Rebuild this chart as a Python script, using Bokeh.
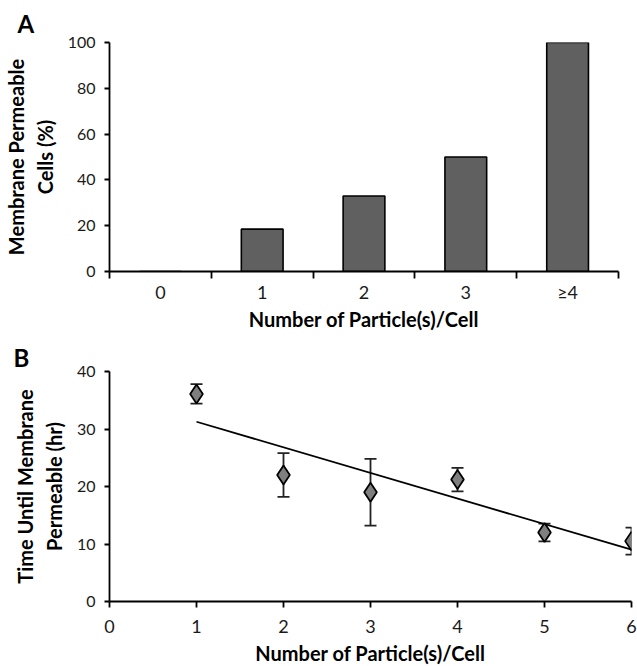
import numpy as np
from bokeh.plotting import figure
from bokeh.layouts import column
from bokeh.models import FixedTicker, Range1d, Whisker, ColumnDataSource, TeeHead
from bokeh.embed import file_html
from bokeh.resources import INLINE

# ---- data ----
categories = ["0", "1", "2", "3", "≥4"]
permeable_pct = [0, 18.5, 33, 50, 100]
yticks_a = [0, 20, 40, 60, 80, 100]

particles = [1, 2, 3, 4, 5, 6]
time_mean = [36.1, 22.0, 19.0, 21.2, 12.0, 10.5]
time_err = [1.7, 3.8, 5.8, 2.05, 1.55, 2.35]
yticks_b = [0, 10, 20, 30, 40]
xticks_b = [0, 1, 2, 3, 4, 5, 6]

FONT = "Lato"
TXT = "#1a1a1a"


def style(p, letter, offset, standoff):
    p.outline_line_color = None
    p.xgrid.visible = False
    p.ygrid.visible = False
    for ax in (p.xaxis[0], p.yaxis[0]):
        ax.axis_line_color = "black"
        ax.axis_line_width = 1.8
        ax.major_tick_line_color = "black"
        ax.major_tick_line_width = 1.8
        ax.minor_tick_line_color = None
        ax.major_tick_in = 0
        ax.major_tick_out = 6
        ax.major_label_text_font = FONT
        ax.major_label_text_color = TXT
        ax.axis_label_text_font = FONT
        ax.axis_label_text_font_size = "20px"
        ax.axis_label_text_font_style = "bold"
        ax.axis_label_text_color = "black"
    p.xaxis[0].major_label_text_font_size = "18px"
    p.yaxis[0].major_label_text_font_size = "16px"
    p.yaxis[0].major_tick_out = 5
    p.yaxis[0].major_label_standoff = 9
    p.yaxis[0].axis_label_standoff = 8
    p.title.text = letter
    p.title.align = "left"
    p.title.offset = offset
    p.title.text_font = FONT
    p.title.text_font_style = "bold"
    p.title.text_font_size = "24px"
    p.title.text_line_height = 0.7
    p.title.text_color = "black"
    p.title.standoff = standoff


# ---- Panel A ----
pos = np.arange(len(categories)) + 0.5
pa = figure(width=621, height=338, x_range=Range1d(0, len(categories)), y_range=Range1d(0, 100),
            output_backend="svg", toolbar_location=None,
            frame_width=509, frame_height=229,
            min_border_left=103, min_border_right=9, min_border_top=42, min_border_bottom=67)
style(pa, "A", -92, 10)
pa.vbar(x=pos, top=permeable_pct, width=0.41, fill_color="#606060", line_color="black", line_width=1.6)
pa.xaxis[0].ticker = FixedTicker(ticks=list(pos), minor_ticks=list(range(len(categories) + 1)))
pa.xaxis[0].major_label_overrides = {float(x): c for x, c in zip(pos, categories)}
pa.xaxis[0].major_tick_out = 0
pa.xaxis[0].minor_tick_line_color = "black"
pa.xaxis[0].minor_tick_line_width = 1.8
pa.xaxis[0].minor_tick_in = 0
pa.xaxis[0].minor_tick_out = 7
pa.xaxis[0].major_label_standoff = 2
pa.xaxis[0].axis_label = "Number of Particle(s)/Cell"
pa.xaxis[0].axis_label_standoff = 1
pa.yaxis[0].ticker = FixedTicker(ticks=yticks_a)
pa.yaxis[0].axis_label = "Membrane Permeable\nCells (%)"

# ---- Panel B ----
pb = figure(width=637, height=327, x_range=Range1d(0, 6), y_range=Range1d(0, 40),
            output_backend="svg", toolbar_location=None,
            frame_width=522, frame_height=230,
            min_border_left=107, min_border_right=8, min_border_top=33, min_border_bottom=64)
style(pb, "B", -96, 0)
pb.xaxis[0].ticker = FixedTicker(ticks=xticks_b)
pb.yaxis[0].ticker = FixedTicker(ticks=yticks_b)
pb.xaxis[0].major_label_standoff = 12
pb.xaxis[0].axis_label = "Number of Particle(s)/Cell"
pb.xaxis[0].axis_label_standoff = 5
pb.yaxis[0].axis_label = "Time Until Membrane\nPermeable (hr)"

coef = np.polyfit(particles, time_mean, 1)
xs = np.array([particles[0], particles[-1]])
pb.line(xs, np.polyval(coef, xs), line_color="black", line_width=1.8)

src = ColumnDataSource(dict(x=particles, y=time_mean,
                            lo=np.array(time_mean) - np.array(time_err),
                            hi=np.array(time_mean) + np.array(time_err)))
pb.add_layout(Whisker(source=src, base="x", lower="lo", upper="hi", line_color="#222222", line_width=1.8,
                      upper_head=TeeHead(size=12, line_color="#222222", line_width=1.8),
                      lower_head=TeeHead(size=12, line_color="#222222", line_width=1.8)))
pb.scatter("x", "y", source=src, marker="diamond", size=19, fill_color="#7f7f7f",
           line_color="black", line_width=1.8)

layout = column(pa, pb, spacing=0)
open("out.html", "w").write(file_html(layout, INLINE))
